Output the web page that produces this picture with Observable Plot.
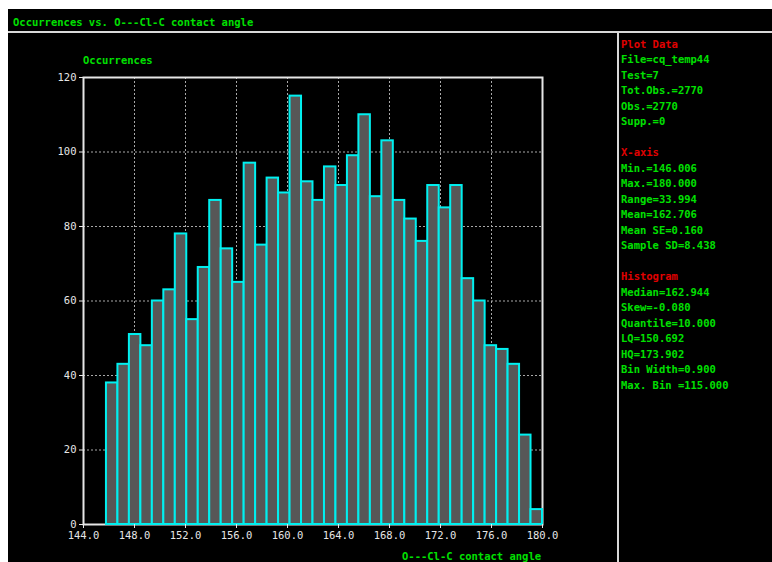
<!DOCTYPE html>
<html>
<head>
<meta charset="utf-8">
<script src="https://cdn.jsdelivr.net/npm/d3@7"></script>
<script src="https://cdn.jsdelivr.net/npm/@observablehq/plot@0.6"></script>
<style>
  html, body { margin: 0; padding: 0; background: #ffffff; }
  body { width: 772px; height: 562px; position: relative; overflow: hidden; }
  #panel { position: absolute; left: 8px; top: 9px; width: 764px; height: 553px; background: #000; }
  .mono { font-family: "DejaVu Sans Mono", monospace; font-size: 10.5px; font-weight: bold; white-space: pre; }
  #title { position: absolute; left: 13px; top: 15px; color: #00e000; line-height: 14px; }
  #hline { position: absolute; left: 8px; top: 31px; width: 764px; height: 2px; background: #d8d8d8; }
  #vline { position: absolute; left: 617px; top: 33px; width: 2px; height: 529px; background: #d8d8d8; }
  #chart { position: absolute; left: 8px; top: 32px; }
  #ylab { position: absolute; left: 83px; top: 53px; color: #00e000; line-height: 14px; }
  #xlab { position: absolute; left: 402px; top: 549px; color: #00e000; line-height: 14px; }
  #stats { position: absolute; left: 621px; top: 36.5px; line-height: 15.5px; }
</style>
</head>
<body>
<div id="panel"></div>
<div id="title" class="mono">Occurrences vs. O---Cl-C contact angle</div>
<div id="hline"></div>
<div id="vline"></div>
<div id="chart"></div>
<div id="ylab" class="mono">Occurrences</div>
<div id="xlab" class="mono">O---Cl-C contact angle</div>
<div id="stats" class="mono"></div>
<script>
// Histogram bins (bin width 0.900, first bin starting at 145.8)
const binStart = 145.8;
const binWidth = 0.9;
const counts = [38, 43, 51, 48, 60, 63, 78, 55, 69, 87, 74, 65, 97, 75, 93, 89, 115, 92, 87, 96,
                91, 99, 110, 88, 103, 87, 82, 76, 91, 85, 91, 66, 60, 48, 47, 43, 24, 4];
const xTicks = [144, 148, 152, 156, 160, 164, 168, 172, 176, 180];
const yTicks = [0, 20, 40, 60, 80, 100, 120];

const statLines = [
  ["Plot Data", "red"], ["File=cq_temp44", "green"], ["Test=7", "green"], ["Tot.Obs.=2770", "green"],
  ["Obs.=2770", "green"], ["Supp.=0", "green"], ["", "green"],
  ["X-axis", "red"], ["Min.=146.006", "green"], ["Max.=180.000", "green"], ["Range=33.994", "green"],
  ["Mean=162.706", "green"], ["Mean SE=0.160", "green"], ["Sample SD=8.438", "green"], ["", "green"],
  ["Histogram", "red"], ["Median=162.944", "green"], ["Skew=-0.080", "green"], ["Quantile=10.000", "green"],
  ["LQ=150.692", "green"], ["HQ=173.902", "green"], ["Bin Width=0.900", "green"], ["Max. Bin =115.000", "green"]
];

const bins = counts.map((c, i) => ({ x1: binStart + i * binWidth, x2: binStart + (i + 1) * binWidth, count: c }));

const plot = Plot.plot({
  width: 610,
  height: 530,
  marginLeft: 75,
  marginRight: 76,
  marginTop: 45,
  marginBottom: 38,
  style: { background: "transparent", color: "#e6e6e6", fontFamily: "'DejaVu Sans Mono', monospace", fontSize: "10.5px" },
  x: { domain: [144, 180], label: null },
  y: { domain: [0, 120], label: null },
  marks: [
    Plot.gridX(xTicks.slice(1, -1), { stroke: "#a8a8a8", strokeOpacity: 1, strokeDasharray: "2,2" }),
    Plot.gridY(yTicks.slice(1, -1), { stroke: "#a8a8a8", strokeOpacity: 1, strokeDasharray: "2,2" }),
    Plot.frame({ stroke: "#e6e6e6", strokeWidth: 2 }),
    Plot.rectY(bins, { x1: "x1", x2: "x2", y: "count", fill: "#575757", stroke: "#00f0f0", strokeWidth: 2 }),
    Plot.axisX(xTicks, { tickFormat: d => d.toFixed(1), tickSize: 4, tickPadding: 3, stroke: "#e6e6e6", fill: "#e6e6e6", label: null }),
    Plot.axisY(yTicks, { tickSize: 4, tickPadding: 3, stroke: "#e6e6e6", fill: "#e6e6e6", label: null })
  ]
});
document.getElementById("chart").appendChild(plot);

const stats = document.getElementById("stats");
for (const [t, c] of statLines) {
  const d = document.createElement("div");
  d.textContent = t || "\u00a0";
  d.style.color = c === "red" ? "#e00000" : "#00e000";
  stats.appendChild(d);
}
</script>
</body>
</html>
